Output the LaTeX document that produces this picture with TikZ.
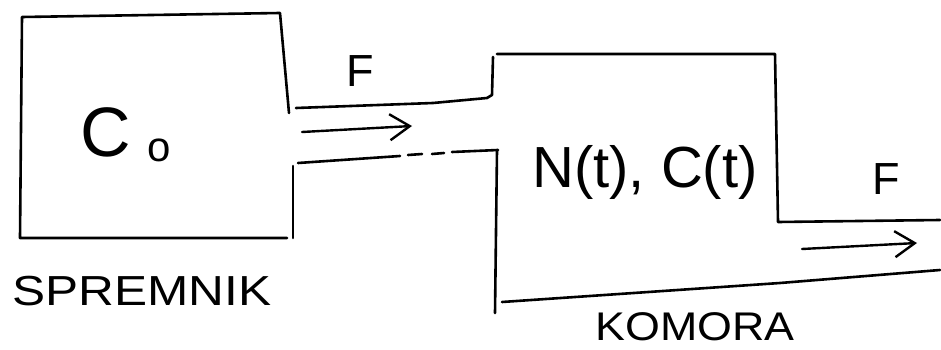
\documentclass[tikz,border=0pt]{standalone}
\usepackage{fontspec}
\setmainfont{Liberation Sans}
\usetikzlibrary{arrows.meta}
\begin{document}
\begin{tikzpicture}[x=1pt,y=-1pt,
  wall/.style={line width=2.6pt, line cap=round, line join=round},
  flow/.style={line width=2.4pt, line cap=round, -{Straight Barb[length=20pt,width=26pt,line width=2.4pt]}},
  lbl/.style={inner sep=0pt, anchor=center}]
\useasboundingbox (0,0) rectangle (941,350);
% tank (spremnik)
\draw[wall] (289,113) -- (280,13) -- (22,17) -- (20,238) -- (287,238);
\draw[wall] (293,166) -- (293,238);
% inlet pipe
\draw[wall] (296,108) -- (433,103) -- (487,98) -- (492,95) -- (493,57);
\draw[wall] (298,163) -- (400,156);
\draw[wall] (408,155) -- (422,154);
\draw[wall] (432,154) -- (444,153);
\draw[wall] (452,152) -- (498,150);
% chamber (komora)
\draw[wall] (497,54) -- (775,54) -- (778,222) -- (940,220);
\draw[wall] (497,150) -- (495,313);
\draw[wall] (502,302) -- (780,283) -- (940,270);
% flow arrows
\coordinate (a1s) at (302,132);
\coordinate (a1e) at (412,126);
\coordinate (a2s) at (802,249);
\coordinate (a2e) at (917,243);
\draw[flow] (a1s) -- (a1e);
\draw[flow] (a2s) -- (a2e);
% labels
\node[lbl, font=\fontsize{70}{70}\selectfont] (cc) at (106,132) {C};
\node[lbl, font=\fontsize{42}{42}\selectfont] (csub) at (159,150) {o};
\node[lbl, font=\fontsize{45}{45}\selectfont] (f1) at (360,71) {F};
\node[lbl, font=\fontsize{45}{45}\selectfont] (f2) at (886,179) {F};
\node[lbl, font=\fontsize{58}{58}\selectfont] (nc) at (645,172) {N(t), C(t)};
\node[lbl, font=\fontsize{42}{42}\selectfont] (spr) at (142,291) {\scalebox{1.18}[1]{SPREMNIK}};
\node[lbl, font=\fontsize{40}{40}\selectfont] (kom) at (695,327) {\scalebox{1.12}[1]{KOMORA}};
\end{tikzpicture}
\end{document}
